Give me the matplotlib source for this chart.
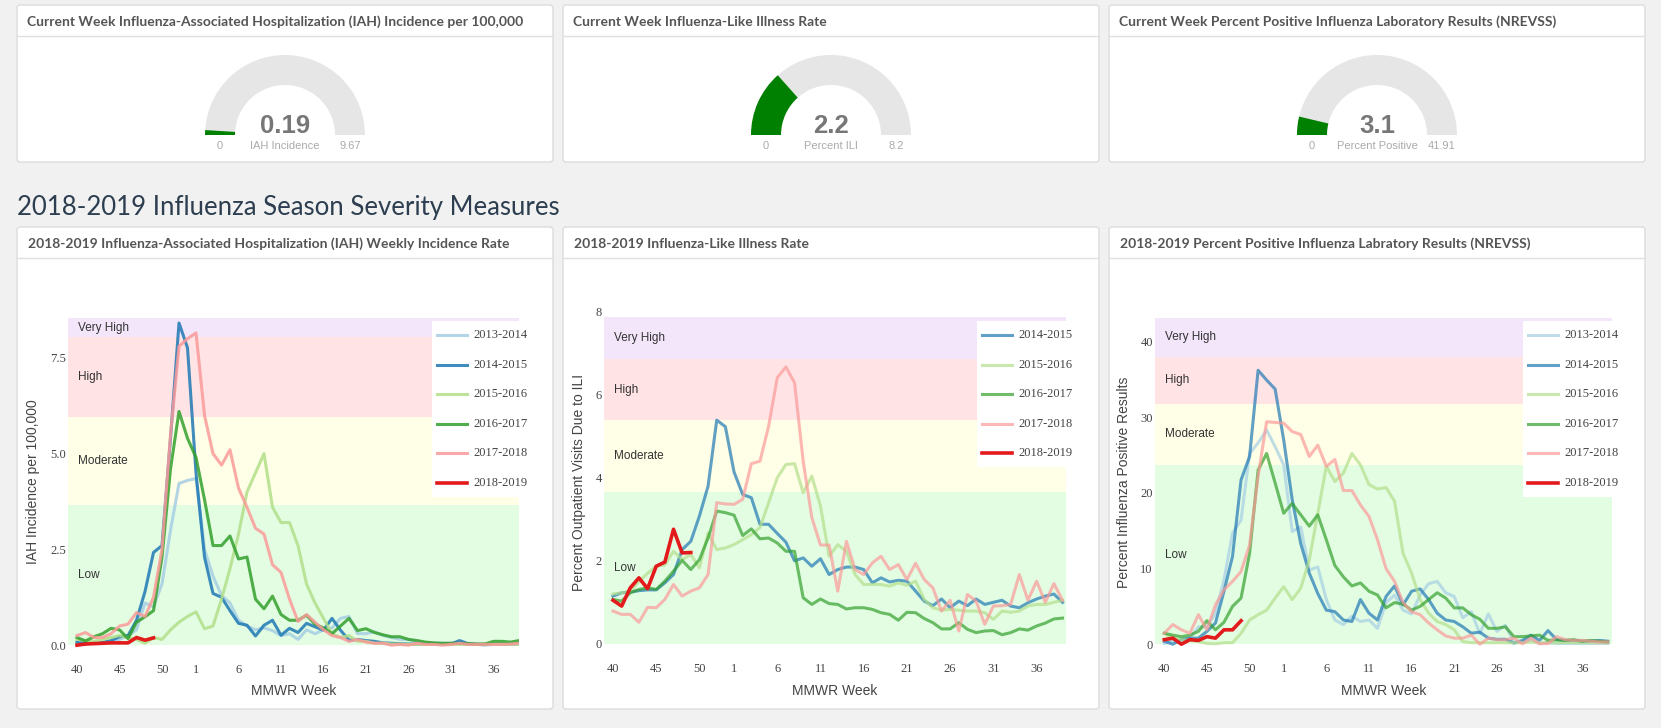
import matplotlib
matplotlib.use("Agg")
import matplotlib.pyplot as plt
from matplotlib.patches import Wedge, FancyBboxPatch

W, H = 1661, 728

# ---- data -------------------------------------------------------------
weeks = list(range(40, 54)) + list(range(1, 40))
tick_weeks = [40, 45, 50, 1, 6, 11, 16, 21, 26, 31, 36]

seasons = ['2013-2014', '2014-2015', '2015-2016', '2016-2017', '2017-2018', '2018-2019']
season_colors = ['#a6cee3', '#1f78b4', '#b2df8a', '#33a02c', '#fb9a99', '#e31a1c']

gauge_titles = ['Current Week Influenza-Associated Hospitalization (IAH) Incidence per 100,000',
                'Current Week Influenza-Like Illness Rate',
                'Current Week Percent Positive Influenza Laboratory Results (NREVSS)']
gauge_values = [0.19, 2.2, 3.1]
gauge_max = [9.67, 8.2, 41.91]
gauge_labels = ['IAH Incidence', 'Percent ILI', 'Percent Positive']

chart_titles = ['2018-2019 Influenza-Associated Hospitalization (IAH) Weekly Incidence Rate',
                '2018-2019 Influenza-Like Illness Rate',
                '2018-2019 Percent Positive Influenza Labratory Results (NREVSS)']
chart_ylabels = ['IAH Incidence per 100,000',
                 'Percent Outpatient Visits Due to ILI',
                 'Percent Influenza Positive Results']

band_names = ['Low', 'Moderate', 'High', 'Very High']
band_colors = ['#e3fde3', '#fffee6', '#ffe3e5', '#f4e6fa']
iah_bands = [0, 3.66, 5.96, 8.04, 8.54]
ili_bands = [0, 3.65, 5.39, 6.85, 7.87]
nrevss_bands = [0, 23.7, 31.8, 38.0, 43.1]

iah = {
    '2013-2014': [0.05, 0.05, 0.05, 0.05, 0.08, 0.15, 0.25, 0.4, 1.1, 1.0,
                  1.6, 3.0, 4.22, 4.3, 4.35, 2.5, 1.8, 1.3, 1.1, 0.65,
                  0.5, 0.4, 0.45, 0.38, 0.25, 0.3, 0.15, 0.4, 0.3, 0.4,
                  0.45, 0.7, 0.75, 0.3, 0.3, 0.35, 0.25, 0.2, 0.15, 0.15,
                  0.1, 0.05, 0.05, 0.05, 0.05, 0.05, 0.03, 0.03, 0.03, 0.03,
                  0.03, 0.03, 0.03],
    '2014-2015': [0.08, 0.05, 0.05, 0.07, 0.12, 0.22, 0.25, 0.65, 1.4, 2.42,
                  2.6, 5.4, 8.41, 7.76, 4.5, 2.3, 1.35, 1.25, 0.9, 0.57,
                  0.52, 0.24, 0.52, 0.65, 0.26, 0.44, 0.33, 0.57, 0.48, 0.39,
                  0.7, 0.39, 0.13, 0.15, 0.12, 0.1, 0.06, 0.05, 0.04, 0.03,
                  0.03, 0.03, 0.03, 0.02, 0.03, 0.12, 0.04, 0.02, 0.01, 0.02,
                  0.02, 0.03, 0.04],
    '2015-2016': [0.15, 0.12, 0.1, 0.15, 0.2, 0.25, 0.2, 0.15, 0.05, 0.2,
                  0.15, 0.4, 0.6, 0.75, 0.87, 0.43, 0.5, 1.2, 2.0, 2.9,
                  4.0, 4.5, 5.0, 3.6, 3.2, 3.2, 2.6, 1.6, 1.1, 0.7,
                  0.3, 0.2, 0.25, 0.1, 0.1, 0.05, 0.05, 0.03, 0.03, 0.02,
                  0.02, 0.02, 0.02, 0.02, 0.02, 0.02, 0.02, 0.02, 0.02, 0.02,
                  0.02, 0.02, 0.02],
    '2016-2017': [0.2, 0.11, 0.22, 0.3, 0.44, 0.4, 0.17, 0.6, 0.74, 0.9,
                  2.3, 4.6, 6.1, 5.4, 4.9, 3.8, 2.6, 2.6, 2.85, 2.25,
                  2.3, 1.2, 0.95, 1.28, 0.8, 0.65, 0.65, 0.78, 0.55, 0.45,
                  0.3, 0.5, 0.7, 0.38, 0.43, 0.33, 0.27, 0.22, 0.22, 0.15,
                  0.12, 0.08, 0.06, 0.05, 0.05, 0.05, 0.04, 0.03, 0.03, 0.1,
                  0.1, 0.08, 0.12],
    '2017-2018': [0.25, 0.33, 0.2, 0.2, 0.3, 0.5, 0.55, 0.85, 0.75, 1.25,
                  2.5, 5.5, 7.8, 8.0, 8.15, 6.0, 5.0, 4.7, 5.1, 4.1,
                  3.6, 3.05, 2.9, 2.1, 1.9, 1.2, 0.62, 0.8, 0.6, 0.4,
                  0.25, 0.2, 0.1, 0.15, 0.08, 0.05, 0.05, 0.0, 0.02, 0.0,
                  0.05, 0.02, 0.02, 0.0, 0.02, 0.05, 0.02, 0.02, 0.02, 0.02,
                  0.02, 0.03, 0.05],
    '2018-2019': [0.0, 0.03, 0.04, 0.05, 0.06, 0.06, 0.06, 0.2, 0.13, 0.19],
}

ili = {
    '2014-2015': [1.15, 1.23, 1.25, 1.28, 1.3, 1.3, 1.47, 1.67, 2.27, 2.47,
                  3.08, 3.8, 5.39, 5.23, 4.14, 3.6, 3.52, 2.88, 2.88, 2.66,
                  2.45, 2.0, 2.07, 1.87, 2.05, 1.67, 1.79, 1.85, 1.85, 1.79,
                  1.47, 1.59, 1.49, 1.53, 1.51, 1.27, 1.03, 0.92, 1.08, 0.87,
                  1.03, 0.92, 1.08, 0.95, 1.0, 1.05, 0.91, 0.87, 0.99, 1.08,
                  1.15, 1.2, 1.0],
    '2015-2016': [1.2, 1.23, 1.27, 1.5, 1.7, 1.87, 1.9, 2.23, 2.03, 2.15,
                  1.83, 2.67, 2.27, 2.31, 2.39, 2.51, 2.63, 2.8, 3.4, 4.0,
                  4.32, 4.34, 3.64, 4.04, 3.32, 2.11, 2.39, 2.23, 1.67, 1.43,
                  1.43, 1.43, 1.39, 1.47, 1.41, 1.51, 1.07, 0.87, 0.81, 0.83,
                  0.81, 0.79, 0.79, 0.75, 0.59, 0.79, 0.76, 0.79, 0.91, 0.95,
                  0.95, 1.0, 1.05],
    '2016-2017': [1.07, 1.03, 1.23, 1.31, 1.35, 1.31, 1.51, 1.75, 2.01, 1.79,
                  2.03, 2.55, 3.2, 3.16, 3.1, 2.61, 2.77, 2.53, 2.55, 2.43,
                  2.23, 2.23, 1.11, 0.95, 1.08, 0.97, 0.95, 0.84, 0.87, 0.87,
                  0.83, 0.75, 0.71, 0.57, 0.76, 0.75, 0.61, 0.51, 0.36, 0.36,
                  0.51, 0.35, 0.27, 0.31, 0.32, 0.22, 0.27, 0.36, 0.33, 0.43,
                  0.5, 0.6, 0.62],
    '2017-2018': [0.79, 0.71, 0.71, 0.52, 0.88, 0.87, 1.07, 1.43, 1.15, 1.27,
                  1.35, 1.67, 3.4, 3.37, 3.36, 3.48, 4.34, 4.4, 5.24, 6.41,
                  6.67, 6.29, 4.4, 3.04, 2.38, 2.38, 1.27, 2.47, 1.79, 1.67,
                  1.95, 2.11, 1.79, 1.91, 1.55, 1.94, 1.55, 1.35, 0.79, 1.05,
                  0.31, 1.19, 1.03, 0.47, 0.91, 0.92, 0.95, 1.67, 1.05, 1.51,
                  1.0, 1.45, 1.05],
    '2018-2019': [1.05, 0.91, 1.35, 1.59, 1.33, 1.87, 1.97, 2.76, 2.19, 2.2],
}

nrevss = {
    '2013-2014': [0.1, 0.4, 0.6, 0.8, 2.3, 2.3, 4.1, 8.5, 14.7, 16.4,
                  25.2, 26.6, 28.3, 26.1, 23.7, 14.9, 15.5, 9.8, 10.2, 5.9,
                  3.2, 2.6, 3.7, 3.0, 3.2, 2.1, 5.5, 6.5, 4.5, 4.0,
                  6.5, 8.0, 8.3, 6.8, 6.3, 3.5, 4.3, 1.4, 4.0, 1.7,
                  2.5, 0.2, 0.3, 0.6, 0.1, 0.2, 0.1, 0.1, 0.1, 0.1,
                  0.1, 0.1, 0.1],
    '2014-2015': [0.4, 0.0, 0.6, 0.8, 0.8, 1.7, 2.8, 7.0, 11.6, 21.7,
                  24.8, 36.2, 34.9, 33.7, 27.0, 19.1, 13.3, 9.4, 6.7, 4.5,
                  4.3, 3.2, 3.0, 5.9, 4.1, 3.2, 6.3, 7.7, 5.2, 7.0,
                  7.3, 5.9, 4.1, 3.2, 3.0, 2.3, 1.45, 1.6, 0.8, 0.65,
                  0.65, 0.15, 0.5, 1.2, 0.5, 1.8, 0.6, 0.5, 0.5, 0.4,
                  0.4, 0.5, 0.4],
    '2015-2016': [1.45, 0.8, 0.6, 0.5, 0.35, 0.1, 0.05, 0.2, 0.2, 1.45,
                  3.2, 3.9, 4.5, 6.1, 7.6, 5.9, 7.4, 11.1, 17.3, 23.5,
                  21.5, 22.6, 25.2, 23.7, 21.1, 20.5, 20.7, 18.9, 12.0, 9.4,
                  5.9, 4.1, 3.0, 2.6, 1.9, 0.35, 0.2, 0.2, 0.2, 0.2,
                  0.2, 0.2, 0.2, 0.3, 0.2, 0.2, 0.2, 0.2, 0.2, 0.2,
                  0.2, 0.2, 0.2],
    '2016-2017': [1.45, 1.2, 1.0, 1.2, 1.7, 3.1, 1.9, 2.9, 5.0, 6.1,
                  12.0, 23.0, 25.2, 21.3, 17.3, 18.6, 17.1, 15.6, 17.1, 13.8,
                  10.4, 8.9, 7.7, 8.1, 7.0, 6.5, 4.8, 5.5, 5.3, 4.5,
                  5.0, 5.9, 6.8, 6.1, 4.8, 4.8, 3.9, 3.3, 2.1, 2.1,
                  2.3, 1.0, 1.0, 1.1, 1.2, 0.5, 0.6, 0.5, 0.6, 0.4,
                  0.5, 0.4, 0.3],
    '2017-2018': [1.45, 2.6, 1.9, 1.45, 3.9, 1.9, 5.2, 7.2, 8.3, 9.6,
                  13.1, 22.2, 29.4, 29.3, 29.2, 28.1, 27.7, 24.8, 26.3, 23.5,
                  24.4, 20.3, 20.3, 18.4, 16.9, 13.8, 10.0, 8.3, 5.5, 4.3,
                  3.9, 2.8, 1.9, 1.1, 0.8, 0.8, 1.2, 0.0, 0.8, 0.6,
                  0.6, 0.8, 0.05, 0.8, 0.05, 0.1, 1.0, 0.6, 0.5, 0.5,
                  0.4, 0.3, 0.3],
    '2018-2019': [0.6, 0.8, 0.0, 0.6, 0.5, 1.0, 0.8, 1.9, 1.9, 3.1],
}

# ---- layout (pixels) --------------------------------------------------
panel_x = [(17, 553), (563, 1099), (1109, 1645)]
top_y = (5, 162)
bot_y = (227, 709)

fig = plt.figure(figsize=(W / 100, H / 100), dpi=100, facecolor='#f1f1f1')
bg = fig.add_axes([0, 0, 1, 1])
bg.set_xlim(0, W)
bg.set_ylim(H, 0)
bg.axis('off')


def px_axes(x0, y0, x1, y1):
    return fig.add_axes([x0 / W, 1 - y1 / H, (x1 - x0) / W, (y1 - y0) / H])


def panel(x0, x1, y0, y1, title, tx=10):
    bg.add_patch(FancyBboxPatch((x0, y0), x1 - x0, y1 - y0,
                                boxstyle='round,pad=0,rounding_size=3',
                                fc='white', ec='#dcdcdc', lw=1))
    bg.plot([x0, x1], [y0 + 31, y0 + 31], color='#e0e0e0', lw=1)
    bg.text(x0 + tx, y0 + 16.5, title, family='Lato', fontweight='bold',
            fontsize=10, color='#555555', ha='left', va='center')


def gauge(cx, cy, value, vmax, label):
    r_out, r_in = 80, 50
    bg.add_patch(Wedge((cx, cy), r_out, 180, 360, width=r_out - r_in,
                       fc='#e6e6e6', ec='none'))
    bg.add_patch(Wedge((cx, cy), r_out, 180, 180 + 180 * value / vmax,
                       width=r_out - r_in, fc='#008000', ec='none'))
    bg.text(cx, cy - 2, f'{value:g}', family='Liberation Sans', fontweight='bold',
            fontsize=18.5, color='#777777', ha='center', va='baseline')
    mid = (r_out + r_in) / 2
    for x, s in [(cx - mid, '0'), (cx, label), (cx + mid, f'{vmax:g}')]:
        bg.text(x, cy + 11, s, family='Liberation Sans', fontsize=8,
                color='#aaaaaa', ha='center', va='center')


# top row: gauges
for (x0, x1), title, v, vm, lab in zip(panel_x, gauge_titles, gauge_values,
                                       gauge_max, gauge_labels):
    panel(x0, x1, top_y[0], top_y[1], title)
    gauge((x0 + x1) / 2, 135, v, vm, lab)

bg.text(17, 215, '2018-2019 Influenza Season Severity Measures', family='Lato',
        fontsize=18.5, color='#2c3e50', ha='left', va='baseline')

for (x0, x1), title in zip(panel_x, chart_titles):
    panel(x0, x1, bot_y[0], bot_y[1], title, tx=11)

# ---- line charts ------------------------------------------------------
chart_specs = [
    dict(data=iah, bands=iah_bands, rect=(68, 318, 519, 649), ylim=(-0.1, 8.54),
         xlim=(-1.06, 52.0), yticks=[0, 2.5, 5, 7.5], yfmt='{:.1f}', ylab_x=33,
         legend=(437, 335), alpha=0.85),
    dict(data=ili, bands=ili_bands, rect=(604, 308, 1066, 648), ylim=(-0.1, 8.09),
         xlim=(-1.04, 52.4), yticks=[0, 2, 4, 6, 8], yfmt='{:g}', ylab_x=579,
         legend=(982, 335), alpha=0.7),
    dict(data=nrevss, bands=nrevss_bands, rect=(1155, 318, 1612, 648), ylim=(-0.5, 43.1),
         xlim=(-1.09, 52.5), yticks=[0, 10, 20, 30, 40], yfmt='{:g}', ylab_x=1124,
         legend=(1528, 335), alpha=0.7),
]

tick_pos = [weeks.index(w) for w in tick_weeks]
legend_items = []

for spec, ylabel in zip(chart_specs, chart_ylabels):
    x0, y0, x1, y1 = spec['rect']
    ax = px_axes(x0, y0, x1, y1)
    ax.set_facecolor('white')
    for s in ax.spines.values():
        s.set_visible(False)
    b = spec['bands']
    for lo, hi, name, col in zip(b[:-1], b[1:], band_names, band_colors):
        ax.axhspan(lo, hi, color=col, lw=0, zorder=0)
        ax.text(10 / (x1 - x0), (lo + hi) / 2, name, transform=ax.get_yaxis_transform(),
                family='Liberation Sans', fontsize=8.5, color='#333333',
                ha='left', va='center', zorder=1)
    entries = []
    for season, col in zip(seasons, season_colors):
        if season not in spec['data']:
            continue
        vals = spec['data'][season]
        current = season == seasons[-1]
        a = 1.0 if current else spec['alpha']
        lw = 2.6 if current else 2.2
        ax.plot(range(len(vals)), vals, color=col, lw=lw, alpha=a,
                solid_joinstyle='round', zorder=3 if current else 2)
        entries.append((season, col, lw, a))
    legend_items.append((spec['legend'], entries))
    ax.set_xlim(*spec['xlim'])
    ax.set_ylim(*spec['ylim'])
    ax.set_xticks(tick_pos)
    ax.set_xticklabels([str(w) for w in tick_weeks])
    ax.set_yticks(spec['yticks'])
    ax.set_yticklabels([spec['yfmt'].format(t) for t in spec['yticks']])
    ax.tick_params(axis='both', length=0, labelsize=9, labelcolor='#444444')
    ax.tick_params(axis='x', pad=11)
    ax.tick_params(axis='y', pad=1.5)
    for lab in ax.get_xticklabels() + ax.get_yticklabels():
        lab.set_family('Liberation Serif')
    bg.text(spec['ylab_x'], 482, ylabel, rotation=90, family='Liberation Sans',
            fontsize=10, color='#444444', ha='center', va='center')
    bg.text((x0 + x1) / 2, 691, 'MMWR Week', family='Liberation Sans',
            fontsize=10, color='#444444', ha='center', va='center')

# legends drawn on a transparent overlay in pixel coordinates
ov = fig.add_axes([0, 0, 1, 1])
ov.set_xlim(0, W)
ov.set_ylim(H, 0)
ov.axis('off')
row = 29.6
for (lx, ly), entries in legend_items:
    n = len(entries)
    ov.add_patch(FancyBboxPatch((lx - 5, ly - 14), 98, row * (n - 1) + 28,
                                boxstyle='square,pad=0', fc='white', ec='none'))
    for k, (season, col, lw, a) in enumerate(entries):
        y = ly + k * row
        ov.plot([lx, lx + 30], [y, y], color=col, lw=lw, alpha=a)
        ov.text(lx + 36, y, season, family='Liberation Serif', fontsize=9,
                color='#444444', ha='left', va='center')

fig.savefig('out.png', dpi=100, facecolor=fig.get_facecolor())
